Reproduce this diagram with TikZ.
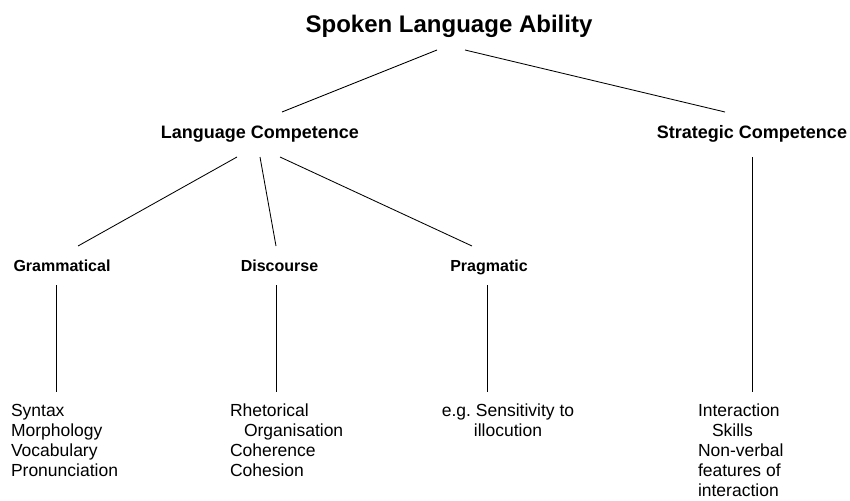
\documentclass[tikz,border=0pt]{standalone}
\usepackage{fontspec}
\setmainfont{Liberation Sans}
\begin{document}
\begin{tikzpicture}[x=1pt,y=-1pt,
  branch/.style={line width=0.85pt,black},
  toplabel/.style={font=\fontsize{24}{28}\selectfont\bfseries,inner sep=0pt,
    anchor=base,text depth=6pt,outer ysep=11pt,outer xsep=0pt},
  midlabel/.style={font=\fontsize{18}{22}\selectfont\bfseries,inner sep=0pt,
    anchor=base,text height=13pt,text depth=6pt,outer ysep=13pt,outer xsep=0pt},
  sublabel/.style={font=\fontsize{16}{19}\selectfont\bfseries,inner sep=0pt,
    anchor=base,text height=12pt,text depth=1pt,outer ysep=13pt,outer xsep=0pt},
  itemlist/.style={font=\fontsize{17.5}{20}\selectfont,inner sep=0pt,
    outer xsep=0pt,outer ysep=12pt,anchor=north west,align=left},
  itemlistc/.style={itemlist,align=center,anchor=north}]
\useasboundingbox (0,0) rectangle (850,500);

% headings
\node[toplabel] (ability) at (449,33) {Spoken Language Ability};
\node[midlabel] (langcomp) at (260,138) {Language Competence};
\node[midlabel] (stratcomp) at (752,138) {Strategic Competence};
\node[sublabel] (gram) at (62,271) {Grammatical};
\node[sublabel] (disc) at (279.5,271) {Discourse};
\node[sublabel] (prag) at (489,271) {Pragmatic};

% leaf lists
\node[itemlist] (gramlist) at (11,392) {Syntax\\Morphology\\Vocabulary\\Pronunciation};
\node[itemlist] (disclist) at (230,392) {Rhetorical\\\hspace*{14pt}Organisation\\Coherence\\Cohesion};
\node[itemlistc] (praglist) at (508,392) {e.g.\ Sensitivity to\\illocution};
\node[itemlist] (stratlist) at (698,392) {Interaction\\\hspace*{14pt}Skills\\Non-verbal\\features of\\interaction};

% upper branches
\draw[branch] ([xshift=-12pt]ability.south) -- ([xshift=22pt]langcomp.north);
\draw[branch] ([xshift=16pt]ability.south) -- ([xshift=-27pt]stratcomp.north);

% language competence branches
\draw[branch] ([xshift=-23pt]langcomp.south) -- ([xshift=16pt]gram.north);
\draw[branch] (langcomp.south) -- ([xshift=-3.5pt]disc.north);
\draw[branch] ([xshift=20pt]langcomp.south) -- ([xshift=-17pt]prag.north);

% vertical stems down to the lists
\path ([xshift=-6pt]gram.south) coordinate (gramstem)
      ([xshift=-3.5pt]disc.south) coordinate (discstem)
      ([xshift=-2pt]prag.south) coordinate (pragstem);
\draw[branch] (gramstem) -- (gramstem |- gramlist.north);
\draw[branch] (discstem) -- (discstem |- disclist.north);
\draw[branch] (pragstem) -- (pragstem |- praglist.north);
\draw[branch] (stratcomp.south) -- (stratcomp.south |- stratlist.north);
\end{tikzpicture}
\end{document}
